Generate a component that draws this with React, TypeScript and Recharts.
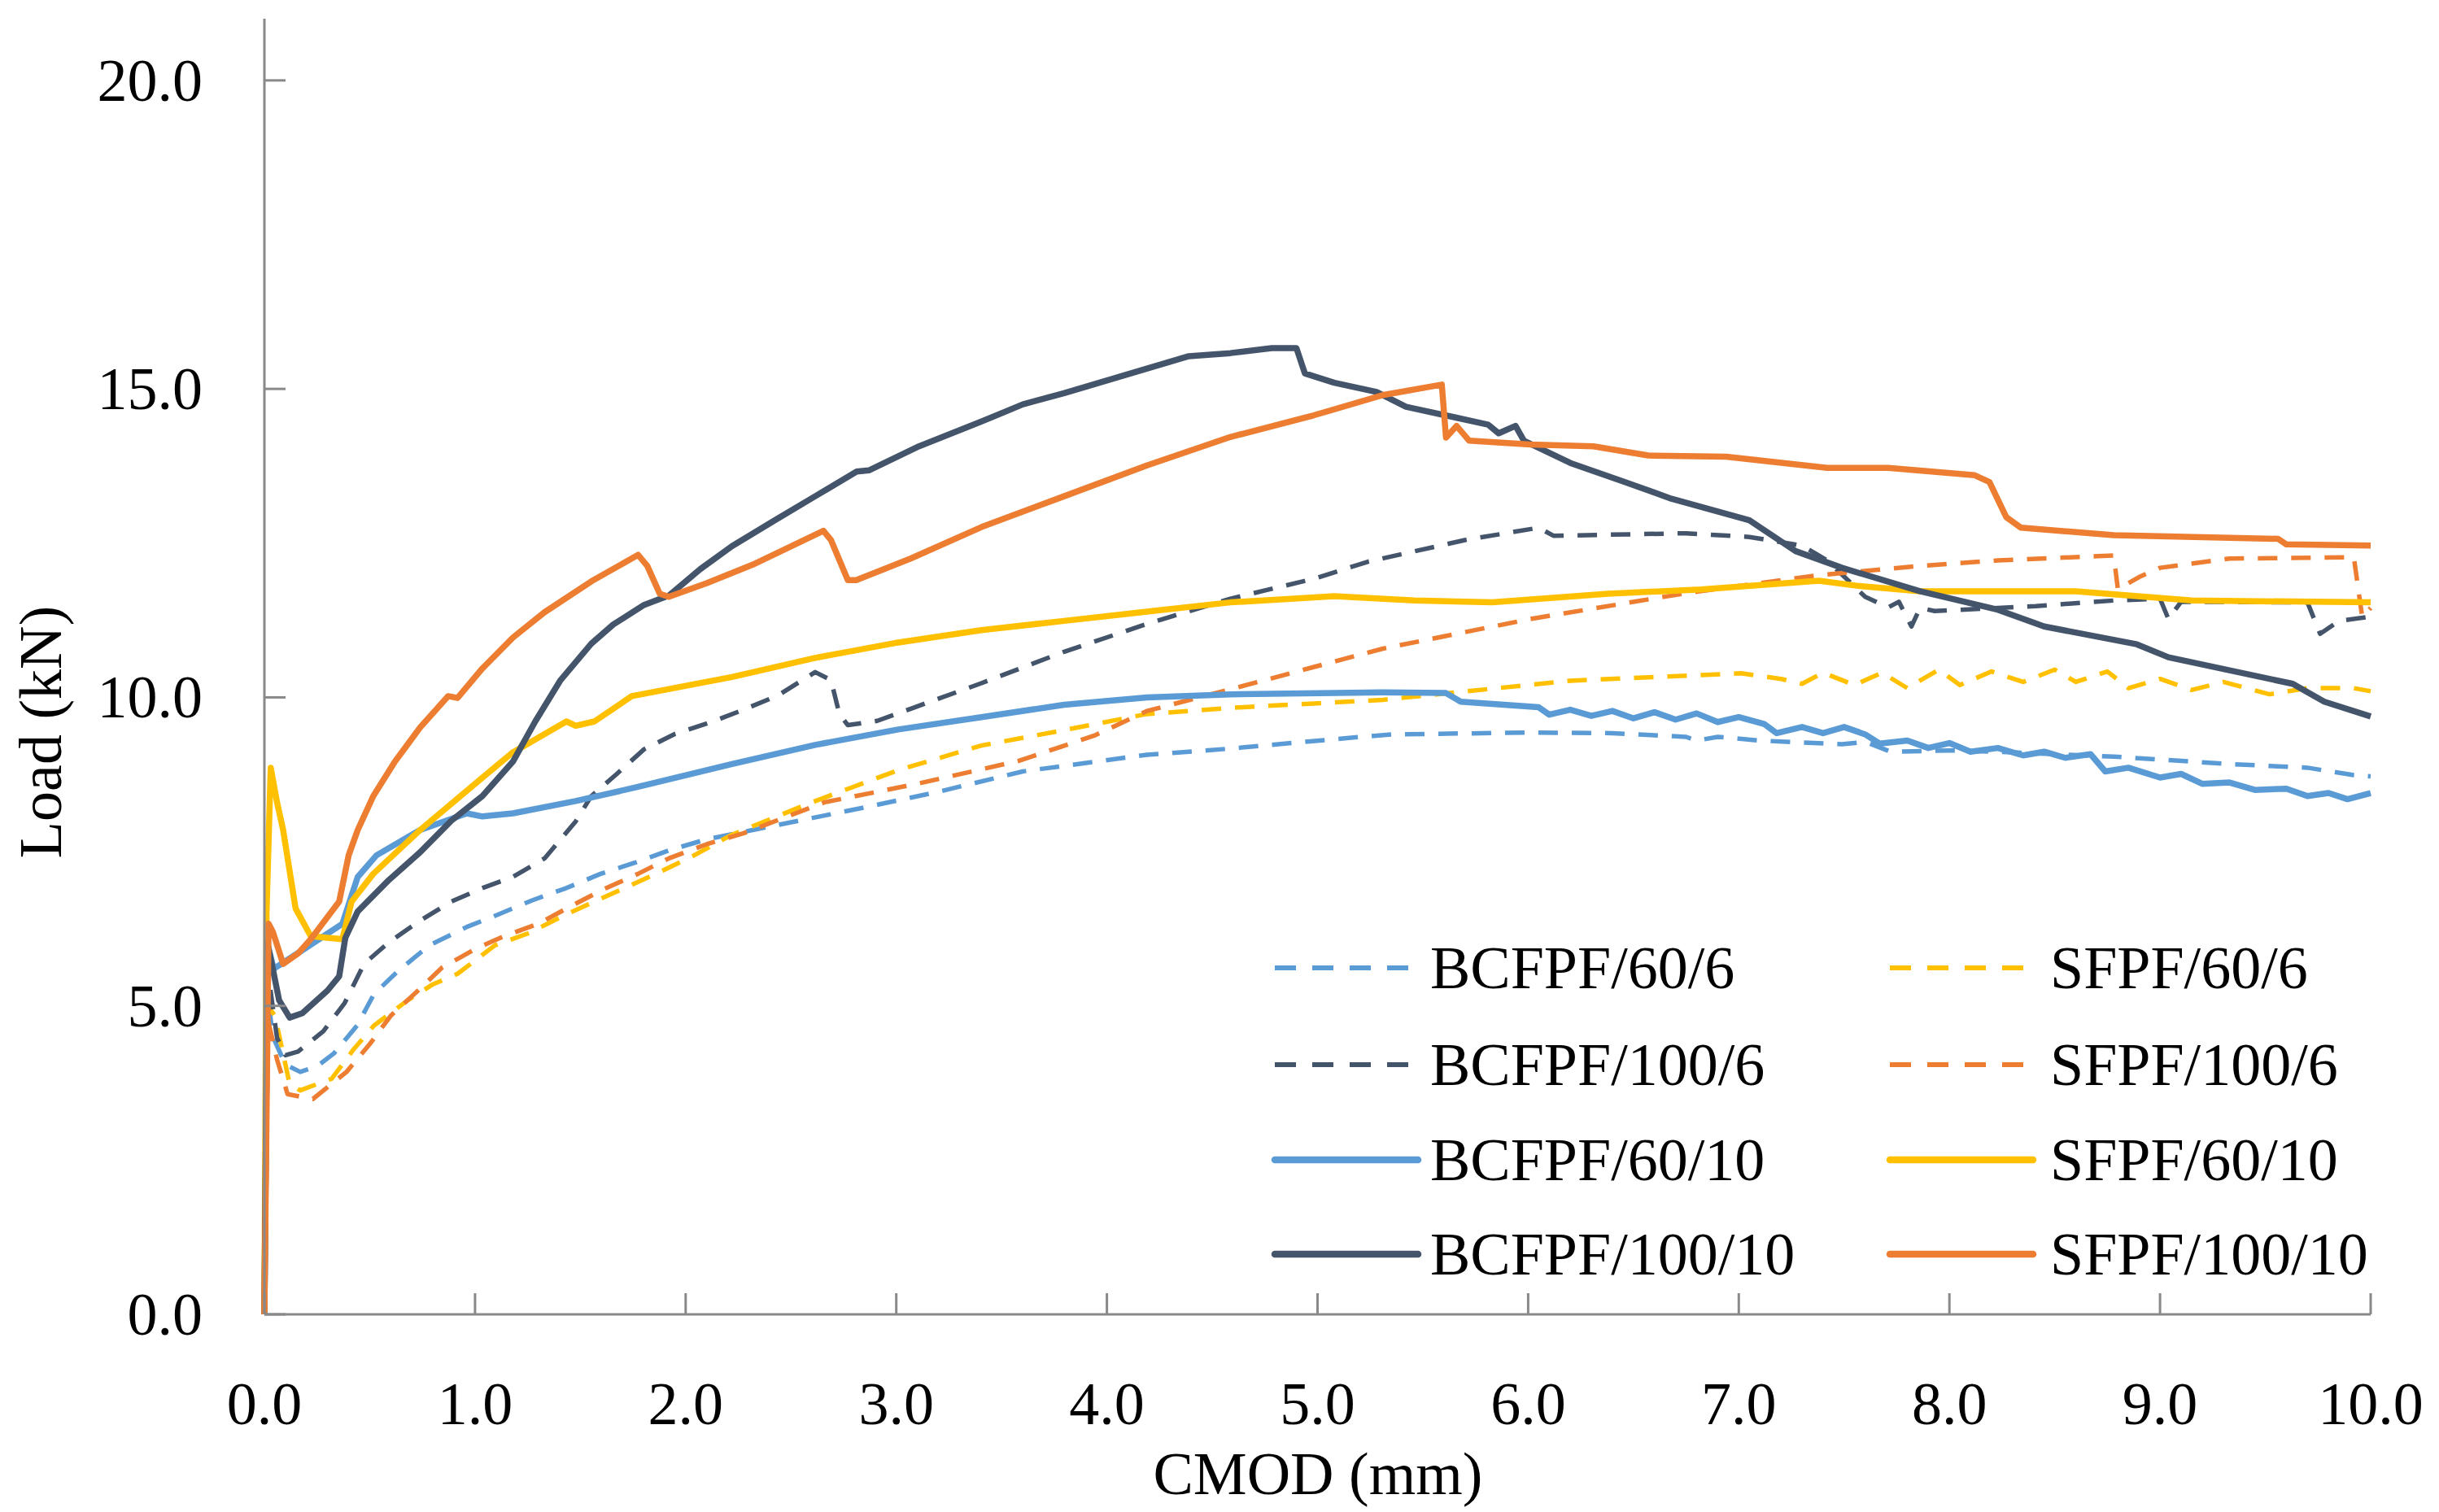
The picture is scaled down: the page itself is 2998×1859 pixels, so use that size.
import React from 'react';
import { LineChart, Line, XAxis, YAxis, Legend } from 'recharts';

// ---------- data (CMOD mm, Load kN) ----------
const xTicks = [0, 1, 2, 3, 4, 5, 6, 7, 8, 9, 10];
const yTicks = [0, 5, 10, 15, 20];

const bcfpf60_6 = [[0,0],[0.015,5.2],[0.04,4.5],[0.1,4.05],[0.17,3.93],[0.25,4.02],[0.33,4.23],[0.44,4.68],[0.52,5.19],[0.636,5.57],[0.783,5.98],[0.961,6.28],[1.109,6.48],[1.271,6.71],[1.434,6.91],[1.596,7.14],[1.759,7.32],[1.92,7.52],[2.1,7.7],[2.318,7.85],[2.84,8.21],[3.2,8.47],[3.6,8.8],[4.19,9.07],[4.586,9.17],[5.17,9.35],[5.35,9.4],[6.01,9.43],[6.4,9.42],[6.75,9.36],[6.8,9.3],[6.9,9.36],[7.1,9.3],[7.49,9.24],[7.6,9.28],[7.72,9.12],[8.0,9.14],[8.23,9.12],[8.78,9.04],[9.33,8.92],[9.7,8.86],[9.92,8.74],[10,8.72]];

const bcfpf100_6 = [[0,0],[0.015,5.6],[0.06,4.48],[0.1,4.2],[0.16,4.26],[0.28,4.59],[0.38,5.04],[0.473,5.68],[0.591,6.03],[0.739,6.38],[0.887,6.69],[1.035,6.91],[1.18,7.09],[1.33,7.39],[1.478,7.99],[1.552,8.4],[1.67,8.75],[1.803,9.16],[1.95,9.41],[2.13,9.61],[2.26,9.78],[2.438,10.03],[2.615,10.41],[2.69,10.28],[2.73,9.73],[2.77,9.55],[2.91,9.62],[3.08,9.83],[3.404,10.23],[3.797,10.74],[4.19,11.19],[4.586,11.6],[4.98,11.92],[5.24,12.2],[5.7,12.55],[6.05,12.75],[6.12,12.62],[6.75,12.66],[7.05,12.6],[7.3,12.46],[7.42,12.22],[7.6,11.63],[7.71,11.46],[7.76,11.55],[7.82,11.15],[7.86,11.45],[7.93,11.4],[8.41,11.48],[8.78,11.57],[9.0,11.6],[9.04,11.27],[9.1,11.55],[9.7,11.54],[9.76,11.03],[9.85,11.24],[10.0,11.31]];

const bcfpf60_10 = [[0,0],[0.015,6.0],[0.044,5.6],[0.148,5.83],[0.37,6.33],[0.443,7.09],[0.532,7.44],[0.739,7.85],[0.961,8.12],[1.035,8.07],[1.18,8.12],[1.478,8.32],[1.774,8.55],[2.22,8.92],[2.615,9.23],[3.009,9.48],[3.404,9.68],[3.797,9.88],[4.19,10.0],[4.586,10.05],[5.31,10.08],[5.61,10.07],[5.68,9.93],[6.05,9.84],[6.1,9.72],[6.2,9.8],[6.3,9.7],[6.4,9.78],[6.5,9.66],[6.6,9.76],[6.7,9.64],[6.8,9.74],[6.9,9.6],[7.0,9.68],[7.12,9.57],[7.18,9.42],[7.3,9.52],[7.4,9.42],[7.5,9.52],[7.6,9.4],[7.67,9.25],[7.8,9.3],[7.9,9.18],[8.0,9.26],[8.1,9.12],[8.23,9.18],[8.35,9.06],[8.45,9.12],[8.55,9.02],[8.67,9.08],[8.74,8.8],[8.85,8.86],[9.0,8.7],[9.1,8.76],[9.2,8.6],[9.33,8.62],[9.45,8.5],[9.6,8.52],[9.7,8.4],[9.8,8.45],[9.89,8.35],[10.0,8.45]];

const bcfpf100_10 = [[0,0],[0.015,6.0],[0.04,5.6],[0.07,5.09],[0.12,4.81],[0.18,4.88],[0.3,5.25],[0.355,5.48],[0.384,6.1],[0.443,6.53],[0.591,7.04],[0.739,7.49],[0.887,8.0],[1.035,8.4],[1.18,8.96],[1.286,9.61],[1.404,10.27],[1.552,10.87],[1.656,11.18],[1.803,11.5],[1.92,11.65],[2.07,12.08],[2.22,12.45],[2.418,12.86],[2.615,13.26],[2.812,13.66],[2.87,13.68],[3.108,14.07],[3.404,14.47],[3.601,14.75],[3.797,14.93],[4.093,15.23],[4.389,15.53],[4.586,15.58],[4.783,15.66],[4.9,15.66],[4.94,15.25],[5.08,15.1],[5.28,14.95],[5.42,14.71],[5.65,14.54],[5.81,14.42],[5.86,14.28],[5.94,14.4],[5.98,14.16],[6.2,13.8],[6.46,13.49],[6.68,13.22],[7.05,12.87],[7.27,12.37],[7.49,12.1],[7.86,11.72],[8.23,11.42],[8.45,11.15],[8.89,10.86],[9.04,10.65],[9.63,10.22],[9.78,9.93],[10.0,9.69]];

const sfpf60_6 = [[0,0],[0.015,5.0],[0.05,4.84],[0.12,3.73],[0.17,3.63],[0.32,3.82],[0.42,4.28],[0.52,4.68],[0.68,5.09],[0.8,5.35],[0.917,5.52],[1.094,5.98],[1.256,6.18],[1.419,6.46],[1.567,6.69],[1.73,6.94],[1.89,7.19],[2.04,7.44],[2.217,7.77],[2.6,8.3],[3.009,8.82],[3.404,9.22],[3.797,9.47],[4.19,9.73],[4.586,9.83],[5.31,9.96],[6.2,10.27],[7.01,10.39],[7.2,10.3],[7.3,10.22],[7.4,10.4],[7.55,10.2],[7.68,10.4],[7.8,10.15],[7.95,10.45],[8.05,10.2],[8.2,10.42],[8.35,10.25],[8.5,10.45],[8.6,10.25],[8.75,10.42],[8.85,10.15],[9.0,10.3],[9.15,10.12],[9.3,10.25],[9.52,10.05],[9.7,10.15],[9.92,10.15],[10.0,10.1]];

const sfpf100_6 = [[0,0],[0.015,4.8],[0.06,4.13],[0.11,3.57],[0.23,3.49],[0.39,3.93],[0.5,4.38],[0.6,4.84],[0.73,5.25],[0.843,5.62],[1.005,5.93],[1.138,6.13],[1.3,6.33],[1.463,6.63],[1.611,6.89],[1.774,7.14],[1.92,7.39],[2.1,7.62],[2.276,7.8],[2.66,8.3],[3.1,8.6],[3.58,8.97],[3.94,9.38],[4.19,9.78],[4.586,10.13],[4.98,10.49],[5.31,10.79],[6.01,11.27],[6.75,11.69],[7.38,11.98],[7.86,12.13],[8.23,12.22],[8.78,12.3],[8.8,11.75],[8.9,11.95],[9.0,12.1],[9.33,12.25],[9.92,12.27],[9.96,11.3],[10.0,11.45]];

const sfpf60_10 = [[0,0],[0.01,6.5],[0.03,8.86],[0.06,8.3],[0.089,7.85],[0.148,6.58],[0.22,6.13],[0.37,6.08],[0.414,6.69],[0.517,7.14],[0.739,7.85],[1.035,8.7],[1.18,9.11],[1.434,9.61],[1.478,9.54],[1.567,9.61],[1.744,10.02],[2.22,10.33],[2.615,10.64],[3.009,10.89],[3.404,11.09],[3.797,11.24],[4.19,11.39],[4.586,11.54],[5.08,11.64],[5.46,11.57],[5.83,11.54],[6.38,11.68],[6.82,11.75],[7.38,11.89],[7.56,11.81],[7.86,11.72],[8.6,11.72],[9.15,11.57],[10.0,11.54]];

const sfpf100_10 = [[0,0],[0.02,6.33],[0.04,6.2],[0.089,5.68],[0.16,5.85],[0.22,6.08],[0.355,6.69],[0.4,7.44],[0.443,7.85],[0.517,8.4],[0.62,8.96],[0.739,9.51],[0.872,10.02],[0.917,9.99],[1.035,10.47],[1.18,10.97],[1.33,11.38],[1.552,11.88],[1.774,12.31],[1.818,12.13],[1.877,11.68],[1.92,11.63],[2.1,11.85],[2.318,12.15],[2.654,12.7],[2.69,12.55],[2.77,11.9],[2.81,11.9],[3.068,12.25],[3.404,12.76],[3.797,13.26],[4.19,13.76],[4.586,14.22],[4.98,14.57],[5.31,14.9],[5.59,15.07],[5.61,14.21],[5.66,14.4],[5.72,14.16],[6.01,14.1],[6.31,14.07],[6.57,13.92],[6.94,13.9],[7.42,13.72],[7.71,13.72],[8.12,13.6],[8.19,13.49],[8.27,12.92],[8.34,12.75],[8.78,12.63],[9.56,12.57],[9.6,12.48],[10.0,12.46]];

// ---------- styling ----------
const LIGHT = '#5B9BD5';
const DARK = '#44546A';
const YELLOW = '#FFC000';
const ORANGE = '#ED7D31';
const AXIS = '#898989';
const FONT = '"Liberation Serif", "Times New Roman", serif';
const FS = 74;

const toPts = (a: number[][]) => a.map(([x, y]) => ({ x, y }));

// row-major order (matches legend rows, and drawing order)
const SERIES = [
  { name: 'BCFPF/60/6', data: toPts(bcfpf60_6), color: LIGHT, dashed: true },
  { name: 'SFPF/60/6', data: toPts(sfpf60_6), color: YELLOW, dashed: true },
  { name: 'BCFPF/100/6', data: toPts(bcfpf100_6), color: DARK, dashed: true },
  { name: 'SFPF/100/6', data: toPts(sfpf100_6), color: ORANGE, dashed: true },
  { name: 'BCFPF/60/10', data: toPts(bcfpf60_10), color: LIGHT, dashed: false },
  { name: 'SFPF/60/10', data: toPts(sfpf60_10), color: YELLOW, dashed: false },
  { name: 'BCFPF/100/10', data: toPts(bcfpf100_10), color: DARK, dashed: false },
  { name: 'SFPF/100/10', data: toPts(sfpf100_10), color: ORANGE, dashed: false },
];

const W = 2982;
const H = 1851;

const YTick = (props: any) => {
  const { x, y, payload } = props;
  return (
    <g>
      <line x1={x} x2={x + 26} y1={y} y2={y} stroke={AXIS} strokeWidth={3} />
      <text x={x - 76} y={y} textAnchor="end" dominantBaseline="central" fontSize={FS} fontFamily={FONT} fill="#000">
        {Number(payload.value).toFixed(1)}
      </text>
    </g>
  );
};

const XTick = (props: any) => {
  const { x, y, payload } = props;
  return (
    <g>
      <line x1={x} x2={x} y1={y} y2={y - 26} stroke={AXIS} strokeWidth={3} />
      <text x={x} y={y + 110} textAnchor="middle" dominantBaseline="central" fontSize={FS} fontFamily={FONT} fill="#000">
        {Number(payload.value).toFixed(1)}
      </text>
    </g>
  );
};

const LEG_COL_LINE = [19, 775];
const LEG_COL_TEXT = [210, 972];
const LEG_ROW_Y = [62, 181, 298, 414];

const renderLegend = () => (
  <svg width={1400} height={480} style={{ display: 'block', overflow: 'visible' }}>
    {SERIES.map((s, i) => {
      const col = i % 2;
      const row = Math.floor(i / 2);
      const y = LEG_ROW_Y[row];
      const x0 = LEG_COL_LINE[col];
      return (
        <g key={s.name}>
          <line
            x1={x0}
            x2={x0 + (s.dashed ? 164 : 176)}
            y1={y}
            y2={y}
            stroke={s.color}
            strokeWidth={s.dashed ? 6 : 8.5}
            strokeDasharray={s.dashed ? '26 20' : undefined}
            strokeLinecap={s.dashed ? 'butt' : 'round'}
          />
          <text x={LEG_COL_TEXT[col]} y={y} dominantBaseline="central" fontSize={FS} fontFamily={FONT} fill="#000">
            {s.name}
          </text>
        </g>
      );
    })}
  </svg>
);

export default function App() {
  return (
    <div style={{ position: 'relative', width: W, height: H, background: '#fff' }}>
      <LineChart width={W} height={H} margin={{ top: 15, right: 76, left: 217, bottom: 143 }}>
        <XAxis
          type="number"
          dataKey="x"
          domain={[0, 10]}
          ticks={xTicks}
          height={100}
          tickSize={0}
          tickMargin={0}
          tickLine={false}
          tick={<XTick />}
          axisLine={{ stroke: AXIS, strokeWidth: 3 }}
          interval={0}
        />
        <YAxis
          type="number"
          dataKey="y"
          domain={[0, 21]}
          ticks={yTicks}
          width={100}
          tickSize={0}
          tickMargin={0}
          tickLine={false}
          tick={<YTick />}
          axisLine={{ stroke: AXIS, strokeWidth: 3 }}
          interval={0}
        />
        <Legend
          layout="horizontal"
          verticalAlign="middle"
          align="center"
          wrapperStyle={{ left: 1540, top: 1120, width: 1400, height: 480 }}
          content={renderLegend}
        />
        {SERIES.map((s) => (
          <Line
            key={s.name}
            name={s.name}
            data={s.data}
            dataKey="y"
            type="linear"
            stroke={s.color}
            strokeWidth={s.dashed ? 5.5 : 7.5}
            strokeDasharray={s.dashed ? '24 17' : undefined}
            strokeLinejoin="round"
            dot={false}
            activeDot={false}
            isAnimationActive={false}
          />
        ))}
      </LineChart>
      <svg width={W} height={H} style={{ position: 'absolute', left: 0, top: 0, pointerEvents: 'none' }}>
        <text x={1612} y={1804} textAnchor="middle" dominantBaseline="central" fontSize={FS} fontFamily={FONT} fill="#000">
          CMOD (mm)
        </text>
        <text
          x={42}
          y={892}
          textAnchor="middle"
          dominantBaseline="central"
          fontSize={FS}
          fontFamily={FONT}
          fill="#000"
          transform="rotate(-90 42 892)"
        >
          Load (kN)
        </text>
      </svg>
    </div>
  );
}
